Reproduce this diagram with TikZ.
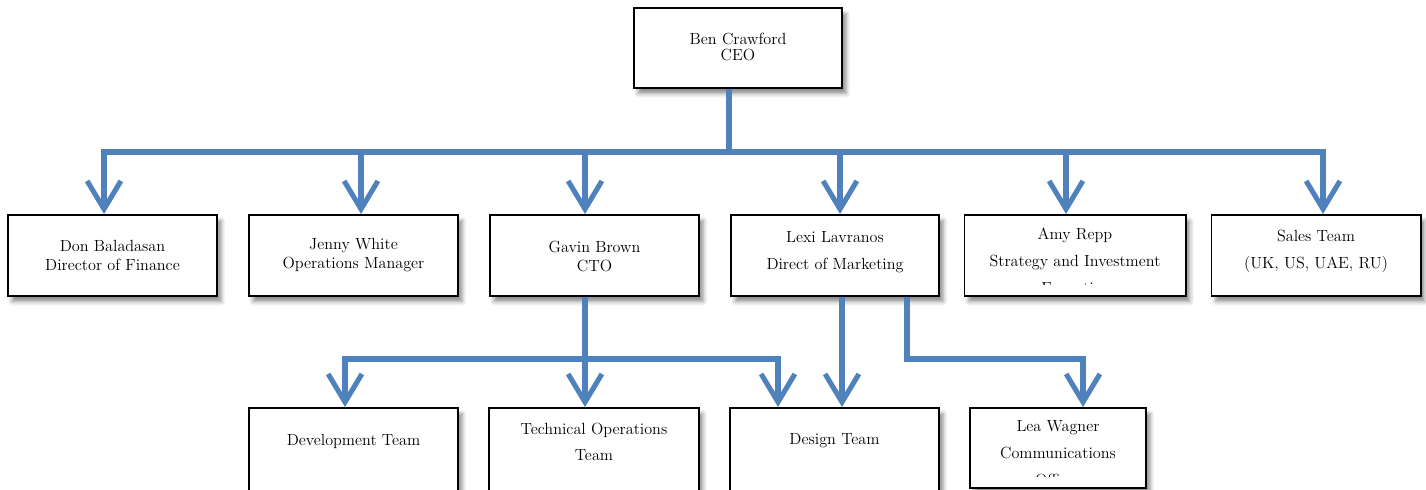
\documentclass[tikz,border=0pt]{standalone}
\usetikzlibrary{arrows.meta,shadows.blur}
\definecolor{linkblue}{RGB}{79,129,189}
\tikzset{x=0.025cm, y=-0.025cm,
    orgbox/.style={draw=black, line width=1.4pt, fill=white,
        minimum width=5.225cm, minimum height=2.025cm, inner sep=0pt,
        blur shadow={shadow xshift=3pt, shadow yshift=-4pt, shadow blur radius=3pt, shadow opacity=45}},
    orgtext/.style={align=center, inner sep=0pt, font=\fontsize{11.5}{13.5}\selectfont},
    widetext/.style={orgtext, font=\fontsize{11.5}{19.2}\selectfont},
    link/.style={draw=linkblue, line width=3.6pt, line join=miter},
    linkarrow/.style={link, -{Straight Barb[length=20pt, width=24pt]}},
    }
\begin{document}
\begin{tikzpicture}
\clip (0,0) rectangle (1426,490);
% boxes
\node[orgbox, minimum width=5.2cm, minimum height=2cm] (ceo) at (738,48) {};
\node[orgbox] (don) at (112.5,255.5) {};
\node[orgbox] (jenny) at (353.5,255.5) {};
\node[orgbox] (gavin) at (594.5,255.5) {};
\node[orgbox, minimum width=5.2cm] (lexi) at (835,255.5) {};
\node[orgbox, minimum width=5.525cm] (amy) at (1075,255.5) {};
\node[orgbox] (sales) at (1316,255.5) {};
\node[orgbox, minimum height=2.1cm] (dev) at (353.5,450) {};
\node[orgbox, minimum height=2.1cm] (techops) at (594,450) {};
\node[orgbox, minimum height=2.1cm] (design) at (834.5,450) {};
\node[orgbox, minimum width=4.4cm, minimum height=2cm] (lea) at (1058,448) {};
% texts
\node[orgtext, font=\fontsize{11.5}{12}\selectfont] (ceo-t) at (738,47) {Ben Crawford\\CEO};
\node[orgtext] (don-t) at (112.5,255) {Don Baladasan\\Director of Finance};
\node[orgtext] (jenny-t) at (353.5,255) {Jenny White\\Operations Manager};
\node[orgtext] (gavin-t) at (594.5,256) {Gavin Brown\\CTO};
\node[widetext] (lexi-t) at (835,252) {Lexi Lavranos\\Direct of Marketing};
\begin{scope}
  \clip (amy.north west) rectangle (1185,285);
  \node[widetext] (amy-t) at (1075,261) {Amy Repp\\Strategy and Investment\\Executive};
\end{scope}
\node[widetext] (sales-t) at (1316,251) {Sales Team\\(UK, US, UAE, RU)};
\node[orgtext] (dev-t) at (353.5,441) {Development Team};
\node[widetext, font=\fontsize{11.5}{18.5}\selectfont] (techops-t) at (594,442) {Technical Operations\\Team};
\node[orgtext] (design-t) at (834.5,441) {Design Team};
\begin{scope}
  \clip (lea.north west) rectangle (1145,477);
  \node[widetext] (lea-t) at (1058,453) {Lea Wagner\\Communications\\Officer};
\end{scope}
% CEO to first level
\coordinate (hub) at (729,152);
\draw[link] (hub |- ceo.south) -- (hub);
\coordinate (don-in) at (104,152);
\coordinate (jenny-in) at (361,152);
\coordinate (gavin-in) at (585,152);
\coordinate (lexi-in) at (840,152);
\coordinate (amy-in) at (1066,152);
\coordinate (sales-in) at (1323,152);
\draw[linkarrow] (hub) -- (don-in) -- (don-in |- don.north);
\draw[linkarrow] (hub) -- (jenny-in) -- (jenny-in |- jenny.north);
\draw[linkarrow] (hub) -- (gavin-in) -- (gavin-in |- gavin.north);
\draw[linkarrow] (hub) -- (lexi-in) -- (lexi-in |- lexi.north);
\draw[linkarrow] (hub) -- (amy-in) -- (amy-in |- amy.north);
\draw[linkarrow] (hub) -- (sales-in) -- (sales-in |- sales.north);
% CTO teams
\coordinate (cto-hub) at (585,359);
\coordinate (dev-in) at (345,359);
\coordinate (design-in) at (778,359);
\draw[link] (cto-hub |- gavin.south) -- (cto-hub);
\draw[linkarrow] (cto-hub) -- (dev-in) -- (dev-in |- dev.north);
\draw[linkarrow] (cto-hub) -- (cto-hub |- techops.north);
\draw[linkarrow] (cto-hub) -- (design-in) -- (design-in |- design.north);
% marketing
\coordinate (mkt-a) at (842,359);
\coordinate (mkt-b) at (907,359);
\coordinate (lea-in) at (1083,359);
\draw[linkarrow] (mkt-a |- lexi.south) -- (mkt-a |- design.north);
\draw[linkarrow] (mkt-b |- lexi.south) -- (mkt-b) -- (lea-in) -- (lea-in |- lea.north);
\end{tikzpicture}
\end{document}
